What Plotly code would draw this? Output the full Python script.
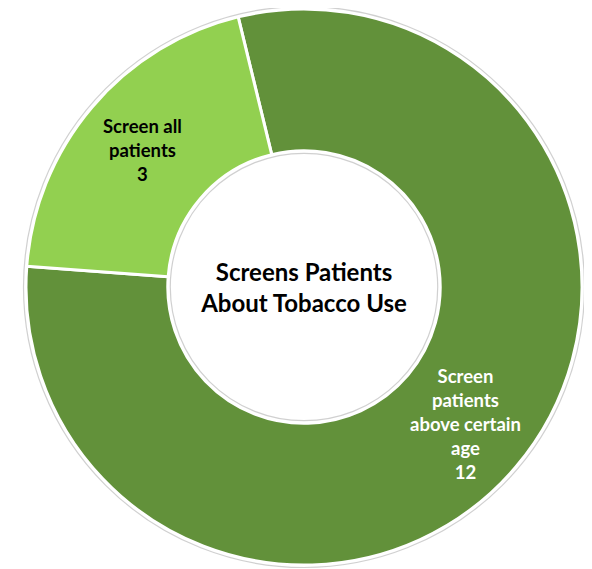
import math
import plotly.graph_objects as go

labels = ["Screen<br>patients<br>above certain<br>age", "Screen all<br>patients"]
values = [12, 3]
colors = ["#62913A", "#92D050"]
text_colors = ["white", "black"]
center_title = "Screens Patients<br>About Tobacco Use"

W, H = 592, 569
# page body adds an offset, so compensate
cx, cy, r = 296, 279, 278
hole = 0.49
rotation = -13.7
label_r = r * (1 + hole) / 2 + 5

fig = go.Figure(go.Pie(
    labels=labels,
    values=values,
    sort=False,
    direction="clockwise",
    rotation=rotation,
    hole=hole,
    marker=dict(colors=colors, line=dict(color="white", width=3)),
    textinfo="none",
    title=dict(text=center_title, position="middle center",
               font=dict(family="Lato, Open Sans, sans-serif", size=24, color="black", weight="bold")),
    showlegend=False,
    hoverinfo="label+value",
    domain=dict(x=[(cx - r) / W, (cx + r) / W],
                y=[max(0, (H - cy - r) / H), min(1, (H - cy + r) / H)]),
))

# slice labels placed at the mid-angle of each slice (derived from the values)
total = sum(values)
cum = 0
for lab, val, col in zip(labels, values, text_colors):
    mid = rotation + (cum + val / 2) / total * 360
    cum += val
    a = math.radians(mid)
    px = cx + label_r * math.sin(a)
    py = cy - label_r * math.cos(a)
    fig.add_annotation(
        x=px / W, y=1 - py / H, xref="paper", yref="paper",
        text=f"{lab}<br>{val}", showarrow=False,
        font=dict(family="Lato, Open Sans, sans-serif", size=18.5, color=col, weight="bold"),
        align="center", xanchor="center", yanchor="middle",
    )

# faint grey outlines around the ring edges
for rr in (r + 2.5, r * hole - 2.5):
    fig.add_shape(type="circle", xref="paper", yref="paper",
                  x0=(cx - rr) / W, x1=(cx + rr) / W,
                  y0=1 - (cy + rr) / H, y1=1 - (cy - rr) / H,
                  line=dict(color="rgba(150,150,150,0.45)", width=1.2), layer="above")

fig.update_layout(
    width=W, height=H,
    margin=dict(l=0, r=0, t=0, b=0),
    paper_bgcolor="white",
    plot_bgcolor="white",
)

fig.write_html("out.html")
